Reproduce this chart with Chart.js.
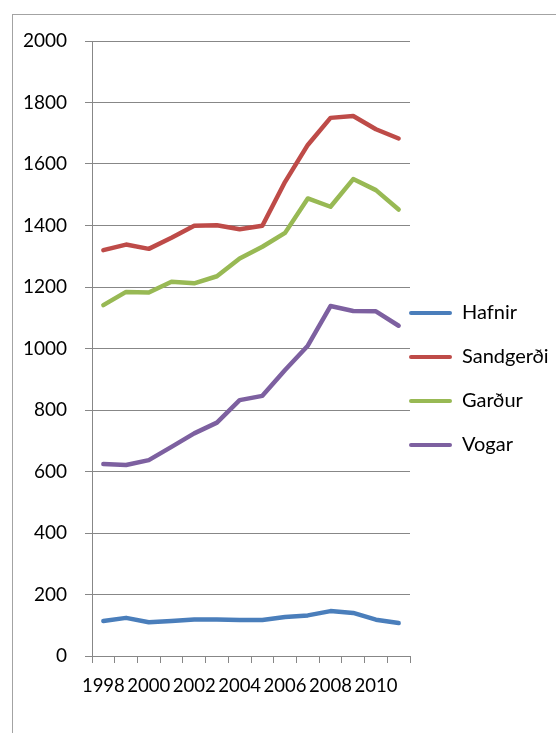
<!DOCTYPE html>
<html>
<head>
<meta charset="utf-8">
<script src="https://cdn.jsdelivr.net/npm/chart.js@4"></script>
<style>
  html, body { margin: 0; padding: 0; background: #fff; overflow: hidden; width: 556px; height: 733px; }
  #frame { position: absolute; left: 12px; top: 14px; width: 620px; height: 800px; border: 1px solid #a3a3a3; }
  #wrap { position: absolute; left: 0; top: 0; width: 556px; height: 733px; }
</style>
</head>
<body>
<div id="frame"></div>
<div id="wrap"><canvas id="c" width="556" height="733"></canvas></div>
<script>
const years = ['1998','1999','2000','2001','2002','2003','2004','2005','2006','2007','2008','2009','2010','2011'];
const hafnir    = [114, 124, 110, 114, 119, 119, 117, 117, 127, 132, 146, 140, 118, 107];
const sandgerdi = [1320, 1338, 1324, 1360, 1399, 1401, 1388, 1399, 1542, 1662, 1750, 1756, 1713, 1683];
const gardur    = [1141, 1184, 1182, 1217, 1212, 1235, 1293, 1331, 1376, 1488, 1461, 1551, 1515, 1452];
const vogar     = [624, 621, 637, 680, 724, 759, 832, 846, 930, 1009, 1138, 1122, 1121, 1074];
const seriesNames = ['Hafnir', 'Sandgerði', 'Garður', 'Vogar'];
const seriesColors = ['#4A7EBB', '#BE4B48', '#98B954', '#7D60A0'];
const seriesData = [hafnir, sandgerdi, gardur, vogar];

Chart.defaults.font.family = 'Lato, "DejaVu Sans", sans-serif';
Chart.defaults.color = '#000';

const GRID = '#878787';

const placeLegend = {
  id: 'placeLegend',
  afterLayout(chart) {
    const lg = chart.legend;
    if (!lg) return;
    const pad = lg.options.labels.padding;
    const dx = (chart.chartArea.right - 1) - (lg.left + pad);
    lg.left += dx;
    lg.right = chart.width;
    lg.width = lg.right - lg.left;
    const colH = lg.columnSizes && lg.columnSizes[0] ? lg.columnSizes[0].height : 0;
    const curY = ((lg.top + pad) + (lg.bottom - colH)) / 2;
    const targetY = 303;
    const dy = targetY - curY;
    lg.top += dy; lg.bottom += dy;
  }
};

new Chart(document.getElementById('c'), {
  type: 'line',
  data: {
    labels: years,
    datasets: seriesNames.map((n, i) => ({
      label: n,
      data: seriesData[i],
      borderColor: seriesColors[i],
      backgroundColor: seriesColors[i],
      borderWidth: 4.5,
      pointRadius: 0,
      tension: 0,
      borderCapStyle: 'round',
      borderJoinStyle: 'round'
    }))
  },
  options: {
    responsive: false,
    animation: false,
    layout: { padding: { top: 41, left: 0, right: 0, bottom: 0 } },
    plugins: {
      tooltip: { enabled: false },
      legend: {
        position: 'right',
        maxWidth: 146,
        labels: {
          boxWidth: 43,
          boxHeight: 4,
          padding: 24,
          font: { size: 20 },
          color: '#000',
          useBorderRadius: true,
          borderRadius: 2,
          generateLabels(chart) {
            const items = Chart.defaults.plugins.legend.labels.generateLabels(chart);
            items.forEach(it => { it.lineWidth = 0; it.fillStyle = it.strokeStyle; });
            return items;
          }
        }
      }
    },
    scales: {
      x: {
        type: 'category',
        offset: true,
        afterFit(scale) { scale.height = 77; },
        grid: {
          offset: true,
          drawOnChartArea: false,
          drawTicks: true,
          tickLength: 7,
          color: GRID,
          lineWidth: 1
        },
        border: { color: GRID, width: 1 },
        ticks: {
          autoSkip: false,
          maxRotation: 0,
          minRotation: 0,
          padding: 12,
          font: { size: 18.5 },
          color: '#000',
          callback: (v, i) => (i % 2 === 0 ? years[i] : '')
        }
      },
      y: {
        min: 0,
        max: 2000,
        afterFit(scale) { scale.width = 92; },
        grid: {
          color: GRID,
          lineWidth: 1,
          tickLength: 7,
          drawTicks: true
        },
        border: { color: GRID, width: 1 },
        ticks: {
          stepSize: 200,
          padding: 18,
          font: { size: 19 },
          color: '#000',
          callback: (v) => String(v)
        }
      }
    }
  },
  plugins: [placeLegend]
});
</script>
</body>
</html>
